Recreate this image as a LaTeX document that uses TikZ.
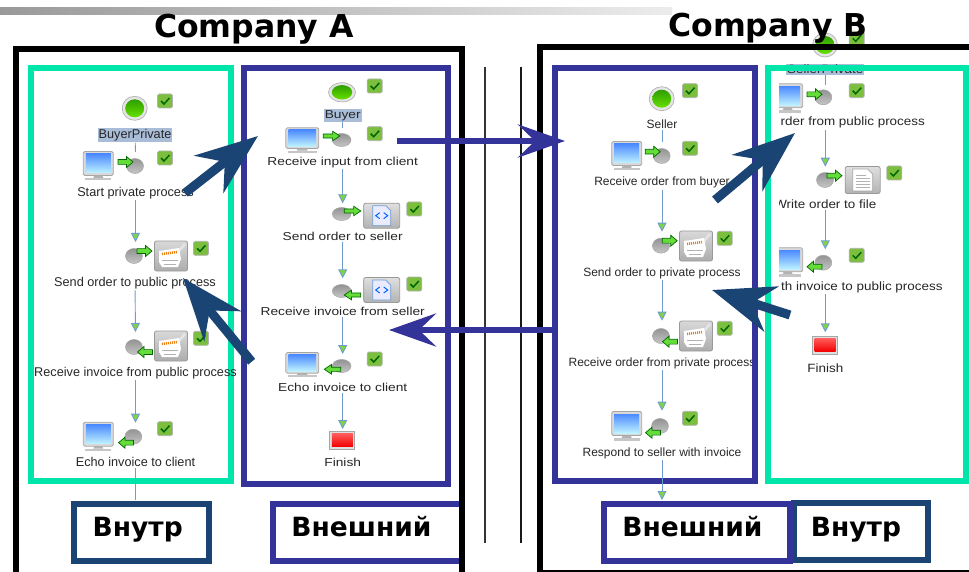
\documentclass[tikz,border=0pt]{standalone}
\usepackage{fontspec}
\usepackage{xcolor}
\usetikzlibrary{arrows.meta}
\setmainfont{Liberation Sans}
\newfontfamily\headsf{DejaVu Sans}
\newfontfamily\widesf[FakeStretch=1.195]{Liberation Sans}
\newfontfamily\widersf[FakeStretch=1.12]{Liberation Sans}
\definecolor{tealbox}{HTML}{00E6AA}
\definecolor{bluebox}{HTML}{333399}
\definecolor{navybox}{HTML}{1A4473}
\definecolor{flowline}{HTML}{6F9BD1}
\definecolor{flowtip}{HTML}{7ED348}
\definecolor{hilite}{HTML}{A9BDD8}
\definecolor{okgreen}{HTML}{7CBF3F}
\definecolor{dottop}{HTML}{2E9E00}
\definecolor{dotbot}{HTML}{66E000}

\begin{document}
\begin{tikzpicture}[x=1pt, y=-1pt,
    tasklp/.style = {inner sep=1pt, anchor=base, yshift=-4.2pt, text=black!85, font=\fontsize{12.7}{14}\selectfont},
    taskmb/.style = {inner sep=1pt, anchor=base, yshift=-4.2pt, text=black!85, font=\widesf\fontsize{11.5}{13}\selectfont},
    taskps/.style = {inner sep=1pt, anchor=base, yshift=-4.2pt, text=black!85, font=\fontsize{12}{14}\selectfont},
    taskrs/.style = {inner sep=1pt, anchor=base, yshift=-4.2pt, text=black!85, font=\widersf\fontsize{12}{14}\selectfont},
    marked/.style = {fill=hilite},
    flow/.style = {draw=flowline, line width=0.9pt, -{Triangle[length=9pt, width=9pt, fill=flowtip]}},
    lead/.style = {draw=flowline, line width=0.9pt},
    tealframe/.style = {draw=tealbox, line width=6pt},
    blueframe/.style = {draw=bluebox, line width=6pt},
    navyframe/.style = {draw=navybox, line width=6pt},
    blackframe/.style = {draw=black, line width=6pt},
    tag/.style = {inner sep=0pt, anchor=base, font=\headsf\bfseries\fontsize{26.5}{30}\selectfont},
    company/.style = {inner sep=0pt, anchor=base, font=\headsf\bfseries\fontsize{31.5}{36}\selectfont},
    bignavy/.style = {draw=navybox, fill=navybox, line width=9pt, -{Stealth[length=62pt, width=47pt, inset=20pt]}},
    bigblue/.style = {draw=bluebox, fill=bluebox, line width=6pt, -{Stealth[length=47pt, width=33pt, inset=17pt]}},
    wideicon/.style = {xscale=1.1, yscale=.87},
    monitor/.pic = {
        \draw[draw=gray!70, fill=gray!30, rounded corners=1.5pt, line width=0.8pt] (-15,-14.5) rectangle (15,9.5);
        \shade[top color=blue!65!cyan!70, bottom color=blue!20!cyan!25] (-12.5,-12) rectangle (12.5,7);
        \fill[gray!60] (-4,9.5) -- (4,9.5) -- (5,12) -- (-5,12) -- cycle;
        \fill[gray!45] (-13,12) rectangle (13,14.5);
    },
    ball/.pic = {
        \shade[top color=gray!85, bottom color=gray!45, draw=gray!70, line width=0.5pt] (0,0) ellipse [x radius=8.5pt, y radius=7.5pt];
    },
    greenarrow/.pic = {
        \draw[draw=black!60!green, fill=flowtip!80!green, line width=0.7pt]
            (-7.5,-2.4) -- (1,-2.4) -- (1,-5.5) -- (7.5,0) -- (1,5.5) -- (1,2.4) -- (-7.5,2.4) -- cycle;
    },
    plugbox/.pic = {
        \shade[top color=gray!30, bottom color=gray!65, draw=gray!80, rounded corners=2pt, line width=0.8pt] (-16.5,-15) rectangle (16.5,15);
        \draw[gray!20, line width=2.5pt] (7,-4) -- (14,-12);
        \fill[white] (-12,-5) -- (8,-8) -- (10,3) -- (7,11) -- (-9,11) -- (-12,6) -- cycle;
        \draw[orange!70!brown, line width=2.5pt, dash pattern=on 1pt off 1pt] (-9,-2) -- (6,-4);
        \draw[gray!60, line width=0.8pt] (-9,4) -- (7,4) (-7,8) -- (5,8);
    },
    xmlbox/.pic = {
        \shade[top color=gray!25, bottom color=gray!60, draw=gray!80, rounded corners=2pt, line width=0.8pt] (-18,-12.5) rectangle (18,12.5);
        \draw[draw=flowline, fill=blue!8, line width=0.7pt] (-9,-10) -- (4,-10) -- (9,-5) -- (9,10) -- (-9,10) -- cycle;
        \draw[blue!60!cyan, line width=1pt] (-2,-3) -- (-6,0) -- (-2,3) (2,-3) -- (6,0) -- (2,3);
    },
    filebox/.pic = {
        \shade[top color=gray!25, bottom color=gray!60, draw=gray!80, rounded corners=2pt, line width=0.8pt] (-17.5,-13.5) rectangle (17.5,13.5);
        \draw[draw=gray!70, fill=white, line width=0.7pt] (-10,-11) -- (5,-11) -- (10,-6) -- (10,11) -- (-10,11) -- cycle;
        \draw[gray!60, line width=0.6pt] (-7,-5) -- (3,-5) (-7,-2) -- (7,-2) (-7,1) -- (7,1) (-7,4) -- (7,4) (-7,7) -- (7,7);
    },
    stopbox/.pic = {
        \draw[draw=gray!70, fill=gray!25, line width=0.8pt] (-12.5,-9) rectangle (12.5,9);
        \shade[top color=red!65, bottom color=red!95!black] (-10.5,-6.5) rectangle (10.5,6.5);
    },
    startdot/.pic = {
        \draw[draw=gray!60, fill=gray!20, line width=0.7pt] (0,0) ellipse [x radius=12.5pt, y radius=12pt];
        \shade[top color=dottop, bottom color=dotbot] (0,0) ellipse [x radius=9.5pt, y radius=9pt];
    },
    okmark/.pic = {
        \draw[draw=gray!60, fill=okgreen, rounded corners=1.5pt, line width=0.7pt] (-7.5,-7) rectangle (7.5,7);
        \draw[black!50!green!80!black, line width=1.5pt] (-4,0) -- (-1,3) -- (4.5,-3);
    }]
    \useasboundingbox (0,0) rectangle (969,572);
    \clip (0,0) rectangle (969,572);

    \shade[left color=gray!80, right color=gray!15] (0,8) rectangle (672,15);
    \draw[tealframe] (30.5,68.5) rectangle (231,481);

    \foreach \x/\y in {165/101, 165/158, 201/248.3, 201/338.3, 165/428.7,
                       374.7/86, 374.7/133.7, 414.3/209, 414.3/284, 374.7/359,
                       690/90.7, 690/148.3, 724.7/238.3, 724.7/328.3, 690/418.3,
                       856.7/38.3, 856.7/90.7, 894.3/173, 856.7/255.3}
        \pic at (\x,\y) {okmark};

    \pic at (134.7,108.3) {startdot};
    \pic at (98.3,166) {monitor};
    \pic at (135,166) {ball};
    \pic at (125.5,162) {greenarrow};
    \pic at (134,256) {ball};
    \pic at (144.5,251) {greenarrow};
    \pic at (171,256) {plugbox};
    \pic at (134,347) {ball};
    \pic[xscale=-1] at (145,352) {greenarrow};
    \pic at (171,346) {plugbox};
    \pic at (98.3,436.7) {monitor};
    \pic at (133.3,436.7) {ball};
    \pic[xscale=-1] at (126,442.7) {greenarrow};

    \node[tasklp, marked] (lp0) at (135,134.5) {BuyerPrivate};
    \node[tasklp] (lp1) at (135.5,192) {Start private process};
    \node[tasklp] (lp2) at (135,282.3) {Send order to public process};
    \node[tasklp] (lp3) at (135.5,372.3) {Receive invoice from public process};
    \node[tasklp] (lp4) at (135.5,462.7) {Echo invoice to client};
    \coordinate (lp1t) at (135.5,152);
    \coordinate (lp2t) at (135.5,242);
    \coordinate (lp3t) at (135.5,332);
    \coordinate (lp4t) at (135.5,422.7);
    \coordinate (lp5t) at (135.5,500);
    \draw[lead] (lp0) -- (lp1t);
    \draw[flow] (lp1) -- (lp2t);
    \draw[flow] (lp2) -- (lp3t);
    \draw[flow] (lp3) -- (lp4t);
    \draw[lead] (lp4) -- (lp5t);

    \pic[xscale=1.08, yscale=.8] at (342,92.3) {startdot};
    \pic[xscale=1.1, yscale=.86] at (302.3,140.3) {monitor};
    \pic[wideicon] at (341.7,140) {ball};
    \pic[wideicon] at (331.5,136) {greenarrow};
    \pic[wideicon] at (341.7,214) {ball};
    \pic[wideicon] at (352.5,211) {greenarrow};
    \pic at (381.7,215.7) {xmlbox};
    \pic[wideicon] at (341.7,291) {ball};
    \pic[wideicon, xscale=-1] at (352.5,295) {greenarrow};
    \pic at (381.7,290) {xmlbox};
    \pic[xscale=1.1, yscale=.86] at (302.3,365) {monitor};
    \pic[wideicon] at (341.7,366) {ball};
    \pic[wideicon, xscale=-1] at (332.5,369.3) {greenarrow};
    \pic at (342.3,440.3) {stopbox};

    \node[taskmb, marked] (mb0) at (342.7,114) {Buyer};
    \node[taskmb] (mb1) at (342.7,161.7) {Receive input from client};
    \node[taskmb] (mb2) at (342.7,236.7) {Send order to seller};
    \node[taskmb] (mb3) at (342.7,311.7) {Receive invoice from seller};
    \node[taskmb] (mb4) at (342.7,387) {Echo invoice to client};
    \node[taskmb] (mb5) at (342.7,462) {Finish};
    \coordinate (mb1t) at (342.7,128);
    \coordinate (mb2t) at (342.7,203.3);
    \coordinate (mb3t) at (342.7,278.3);
    \coordinate (mb4t) at (342.7,354);
    \coordinate (mb5t) at (342.7,429);
    \draw[lead] (mb0) -- (mb1t);
    \draw[flow] (mb1) -- (mb2t);
    \draw[flow] (mb2) -- (mb3t);
    \draw[flow] (mb3) -- (mb4t);
    \draw[flow] (mb4) -- (mb5t);

    \pic at (661.7,98.7) {startdot};
    \pic at (626.7,156) {monitor};
    \pic at (661.7,156) {ball};
    \pic at (652.7,151.7) {greenarrow};
    \pic at (661,245.7) {ball};
    \pic at (669.7,240.7) {greenarrow};
    \pic at (696,246) {plugbox};
    \pic at (661,336) {ball};
    \pic[xscale=-1] at (670,341.7) {greenarrow};
    \pic at (696,336) {plugbox};
    \pic at (626.7,426) {monitor};
    \pic at (660,426) {ball};
    \pic[xscale=-1] at (653,432.7) {greenarrow};

    \node[taskps] (ps0) at (662,124.7) {Seller};
    \node[taskps] (ps1) at (662,181.7) {Receive order from buyer};
    \node[taskps] (ps2) at (662,272) {Send order to private process};
    \node[taskps] (ps3) at (662,362) {Receive order from private process};
    \node[taskps] (ps4) at (662,452) {Respond to seller with invoice};
    \coordinate (ps1t) at (662,141.7);
    \coordinate (ps2t) at (662,231.7);
    \coordinate (ps3t) at (662,320.7);
    \coordinate (ps4t) at (662,410.7);
    \coordinate (ps5t) at (662,500);
    \draw[lead] (ps0) -- (ps1t);
    \draw[flow] (ps1) -- (ps2t);
    \draw[flow] (ps2) -- (ps3t);
    \draw[flow] (ps3) -- (ps4t);

    \pic at (825,45) {startdot};
    \pic at (823.3,97.3) {ball};
    \pic at (814.5,94.3) {greenarrow};
    \pic at (825,180) {ball};
    \pic at (834.5,175.7) {greenarrow};
    \pic at (862.7,180) {filebox};
    \pic at (823.3,262.7) {ball};
    \pic[xscale=-1] at (814.5,266.7) {greenarrow};
    \pic at (825,345) {stopbox};
    \begin{scope}
        \clip (779,0) rectangle (969,572);
        \pic at (787.7,98.3) {monitor};
        \pic at (787.7,262.3) {monitor};
        \node[taskrs] (rs2) at (825.3,204) {Write order to file};
    \end{scope}

    \node[taskrs, marked] (rs0) at (825.3,69.5) {SellerPrivate};
    \node[taskrs, anchor=base west] (rs1) at (779.5,121.7) {rder from public process};
    \node[taskrs, anchor=base west] (rs3) at (780,286) {th invoice to public process};
    \node[taskrs] (rs4) at (825.3,368.7) {Finish};
    \coordinate (rs1t) at (825.3,84.7);
    \coordinate (rs2t) at (825.3,166.7);
    \coordinate (rs3t) at (825.3,249.3);
    \coordinate (rs4t) at (825.3,332.3);
    \draw[lead] (rs0) -- (rs1t);
    \draw[flow] (rs1.south -| rs2t) -- (rs2t);
    \draw[flow] (rs2) -- (rs3t);
    \draw[flow] (rs3.south -| rs4t) -- (rs4t);

    \draw[blueframe] (243.7,67.7) rectangle (447.7,484.3);
    \draw[blueframe] (554.7,68.3) rectangle (754.7,481);
    \draw[tealframe] (767.7,68.3) rectangle (966,481);
    \draw[flow] (ps4) -- (ps5t);

    \draw[black!80, line width=1.5pt] (485,67) -- (485,543);
    \draw[black!90, line width=1.5pt] (521,67) -- (521,543);

    \draw[navyframe] (74.3,503.7) rectangle (209,561);
    \draw[blueframe] (273,503.7) rectangle (462,561);
    \draw[navyframe] (793.7,503) rectangle (927.7,560);
    \draw[blueframe] (604,503.7) rectangle (790,561);
    \draw[blackframe] (15.5,49.5) rectangle (462,590);
    \draw[blackframe] (540,47) rectangle (990,573);

    \node[tag] (ti1) at (137.7,536.7) {Внутр};
    \node[tag] (ex1) at (361.5,536.7) {Внешний};
    \node[tag] (ex2) at (692.5,536.7) {Внешний};
    \node[tag] (ti2) at (856,536.7) {Внутр};
    \node[company] (ca) at (254,38) {Company A};
    \node[company] (cb) at (768,37) {Company B};

    \coordinate (n1s) at (185,193);
    \coordinate (n1e) at (258,136);
    \coordinate (n2s) at (251.7,361.7);
    \coordinate (n2e) at (183,278);
    \coordinate (n3s) at (715,200);
    \coordinate (n3e) at (795,133);
    \coordinate (n4s) at (790,315);
    \coordinate (n4e) at (712,290);
    \coordinate (b1s) at (397,141);
    \coordinate (b1e) at (565,141);
    \coordinate (b2s) at (558,330);
    \coordinate (b2e) at (389,330);
    \draw[bignavy] (n1s) -- (n1e);
    \draw[bignavy] (n2s) -- (n2e);
    \draw[bignavy] (n3s) -- (n3e);
    \draw[bignavy] (n4s) -- (n4e);
    \draw[bigblue] (b1s) -- (b1e);
    \draw[bigblue] (b2s) -- (b2e);
\end{tikzpicture}
\end{document}
